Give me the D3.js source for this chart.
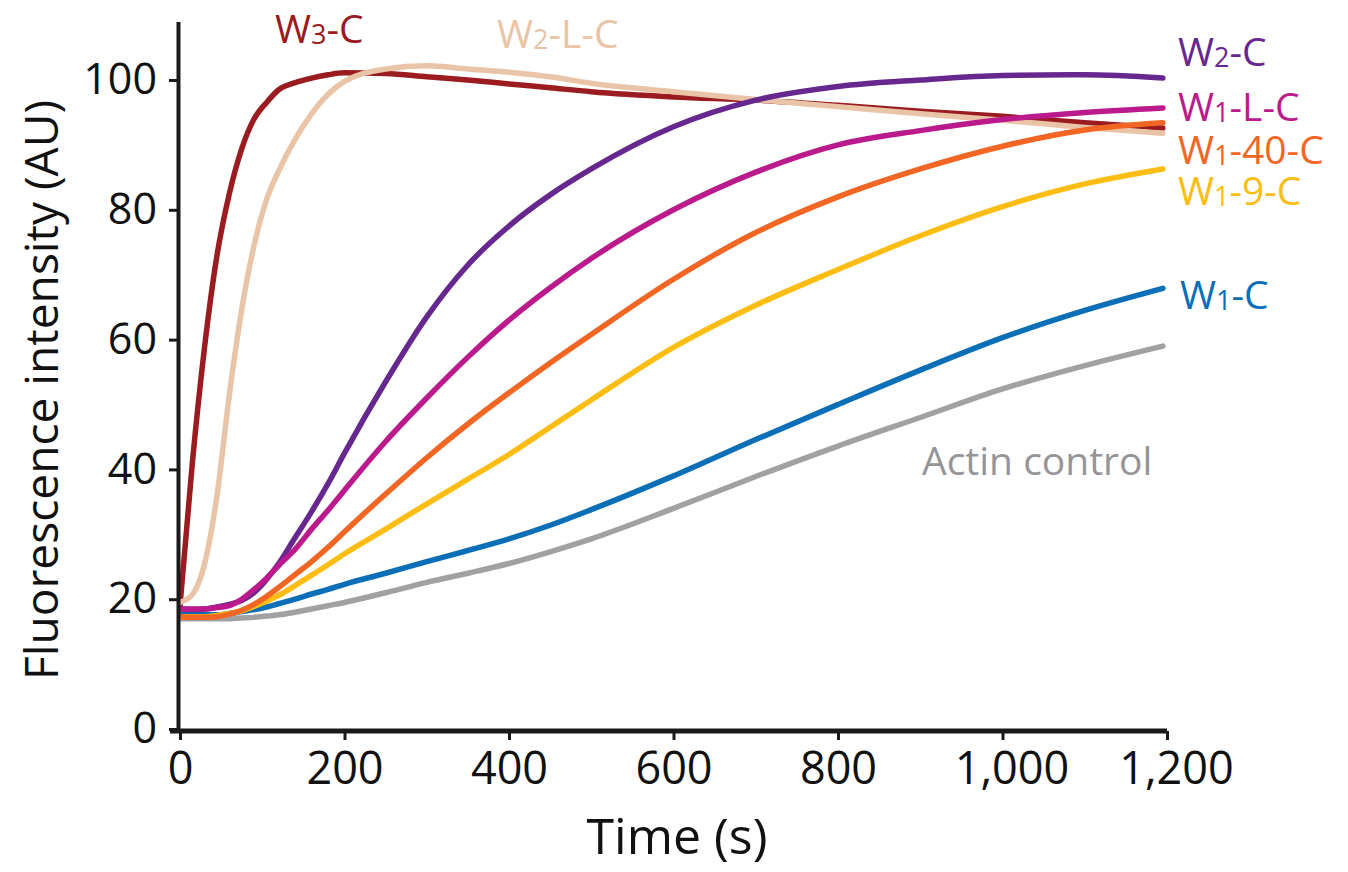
<!DOCTYPE html>
<html>
<head>
<meta charset="utf-8">
<script src="https://cdn.jsdelivr.net/npm/d3@7"></script>
<style>
  body { margin: 0; background: #fff; }
  svg { display: block; }
  text { font-family: "Open Sans", sans-serif; }
</style>
</head>
<body>
<script>
var width = 1348;
var height = 872;

// time points (s), shared by every trace
var time = [0, 15, 30, 45, 60, 75, 90, 105, 120, 140, 160, 180, 200, 250, 300, 350, 400, 450, 500, 600, 700, 800, 900, 1000, 1100, 1195];

// fluorescence (AU)
var w3C   = [19, 41, 59, 73, 82.5, 89.4, 94, 96.5, 98.5, 99.6, 100.3, 100.8, 101.1, 101, 100.5, 100, 99.4, 98.8, 98.2, 97.4, 96.9, 96.1, 95.2, 94.4, 93.4, 92.6];
var w2LC  = [19.5, 20.7, 25.5, 36, 51.5, 64.6, 74.5, 81.5, 86, 90.9, 94.8, 97.8, 99.8, 101.7, 102.2, 101.7, 101.2, 100.5, 99.5, 98.2, 97, 95.9, 94.8, 93.8, 92.7, 91.8];
var w2C   = [18.5, 18.4, 18.5, 18.8, 19.2, 19.8, 21, 23, 25.5, 29.5, 33.5, 37.8, 42.5, 53.5, 63.5, 71.5, 77.5, 82.3, 86.3, 92.8, 96.9, 99, 100, 100.7, 100.8, 100.3];
var w1LC  = [18.5, 18.5, 18.5, 18.7, 19, 20, 21.5, 23.2, 25.2, 27.7, 30.8, 33.7, 36.8, 44.3, 51, 57.3, 63, 68, 72.5, 80, 85.8, 90, 92.2, 93.9, 95, 95.7];
var w140C = [17.3, 17.2, 17.2, 17.3, 17.7, 18.3, 19.2, 20.4, 21.8, 23.8, 25.8, 28, 30.4, 36.2, 41.8, 47, 51.8, 56.4, 60.8, 69.3, 76.5, 82, 86.3, 89.8, 92.3, 93.4];
var w19C  = [17.3, 17.3, 17.3, 17.5, 17.8, 18.2, 18.9, 19.7, 20.6, 22.1, 23.7, 25.3, 27, 30.8, 34.7, 38.5, 42.3, 46.5, 50.7, 58.8, 65.3, 70.8, 76, 80.5, 84, 86.3];
var w1C   = [17.7, 17.6, 17.6, 17.6, 17.8, 18.1, 18.4, 18.8, 19.3, 20, 20.8, 21.5, 22.3, 24, 25.8, 27.5, 29.3, 31.4, 33.8, 39, 44.6, 50, 55.3, 60.3, 64.5, 67.9];
var actin = [17, 17, 17, 17, 17, 17.1, 17.2, 17.4, 17.6, 18, 18.5, 19, 19.5, 21, 22.6, 24, 25.5, 27.3, 29.3, 34, 38.9, 43.6, 48, 52.4, 56, 59];

var xTicks = [0, 200, 400, 600, 800, 1000, 1200];
var yTicks = [0, 20, 40, 60, 80, 100];

// drawing order: bottom first
var series = [
  {values: actin, color: '#a1a1a4'},
  {values: w1C,   color: '#0b6fb8'},
  {values: w19C,  color: '#fdbd12'},
  {values: w3C,   color: '#9a1b20'},
  {values: w2LC,  color: '#e9c4a6'},
  {values: w2C,   color: '#66288f'},
  {values: w1LC,  color: '#bb1a8c'},
  {values: w140C, color: '#f26624'}
];

// label parts: [main, subscript, rest]
var labels = [
  {parts: ['W', '3', '-C'],    color: '#9a1b20', x: 275,  y: 43},
  {parts: ['W', '2', '-L-C'],  color: '#e9c4a6', x: 497,  y: 48},
  {parts: ['W', '2', '-C'],    color: '#66288f', x: 1178, y: 66},
  {parts: ['W', '1', '-L-C'],  color: '#bb1a8c', x: 1178, y: 121},
  {parts: ['W', '1', '-40-C'], color: '#f26624', x: 1178, y: 164},
  {parts: ['W', '1', '-9-C'],  color: '#fdbd12', x: 1178, y: 205},
  {parts: ['W', '1', '-C'],    color: '#0b6fb8', x: 1180, y: 309},
  {parts: ['Actin control', '', ''], color: '#959598', x: 922, y: 475}
];

var svg = d3.select('body').append('svg')
  .attr('width', width)
  .attr('height', height);

var x = d3.scaleLinear().domain([0, 1200]).range([180, 1167]);
var y = d3.scaleLinear().domain([0, 109]).range([729, 21.6]);

var line = d3.line()
  .x(function(d){ return x(d[0]); })
  .y(function(d){ return y(d[1]); })
  .curve(d3.curveMonotoneX);

svg.append('g').selectAll('path')
  .data(series)
  .enter()
  .append('path')
  .attr('fill', 'none')
  .attr('stroke', function(d){ return d.color; })
  .attr('stroke-width', 5.5)
  .attr('stroke-linejoin', 'round')
  .attr('stroke-linecap', 'round')
  .attr('d', function(d){ return line(d.values.map(function(v, i){ return [time[i], v]; })); });

// axes
var yAxis = svg.append('g')
  .attr('transform', 'translate(178,0)')
  .call(d3.axisLeft(y).tickValues(yTicks).tickSize(9).tickSizeOuter(0).tickPadding(12));
yAxis.select('.domain').attr('stroke', '#1a1a1a').attr('stroke-width', 4);
yAxis.selectAll('.tick line').attr('stroke', '#1a1a1a').attr('stroke-width', 3);
yAxis.selectAll('.tick text')
  .attr('font-family', '"Open Sans", sans-serif')
  .attr('font-size', 43)
  .attr('fill', '#111');

var xAxis = svg.append('g')
  .attr('transform', 'translate(0,731)')
  .call(d3.axisBottom(x).tickValues(xTicks).tickSize(9).tickSizeOuter(0).tickPadding(12)
    .tickFormat(d3.format(',')));
xAxis.select('.domain').remove();
xAxis.append('line')
  .attr('x1', 170).attr('x2', x(1200))
  .attr('stroke', '#1a1a1a').attr('stroke-width', 5);
xAxis.selectAll('.tick line').attr('stroke', '#1a1a1a').attr('stroke-width', 3);
xAxis.selectAll('.tick text')
  .attr('font-family', '"Open Sans", sans-serif')
  .attr('font-size', 45)
  .attr('dx', function(d){ return d >= 1000 ? 9 : 0; })
  .attr('fill', '#111');

svg.append('text')
  .attr('x', 677).attr('y', 854)
  .attr('text-anchor', 'middle')
  .attr('font-size', 50)
  .attr('fill', '#111')
  .text('Time (s)');

svg.append('text')
  .attr('transform', 'translate(58,390) rotate(-90)')
  .attr('text-anchor', 'middle')
  .attr('font-size', 46)
  .attr('textLength', 580)
  .attr('lengthAdjust', 'spacingAndGlyphs')
  .attr('fill', '#111')
  .text('Fluorescence intensity (AU)');

// trace labels with subscripts
var lab = svg.append('g').selectAll('text')
  .data(labels)
  .enter()
  .append('text')
  .attr('x', function(d){ return d.x; })
  .attr('y', function(d){ return d.y; })
  .attr('font-size', 39)
  .attr('fill', function(d){ return d.color; });
lab.append('tspan').text(function(d){ return d.parts[0]; });
lab.append('tspan').attr('font-size', 27).attr('dy', 1).text(function(d){ return d.parts[1]; });
lab.append('tspan').attr('dy', -1).text(function(d){ return d.parts[2]; });
</script>
</body>
</html>
